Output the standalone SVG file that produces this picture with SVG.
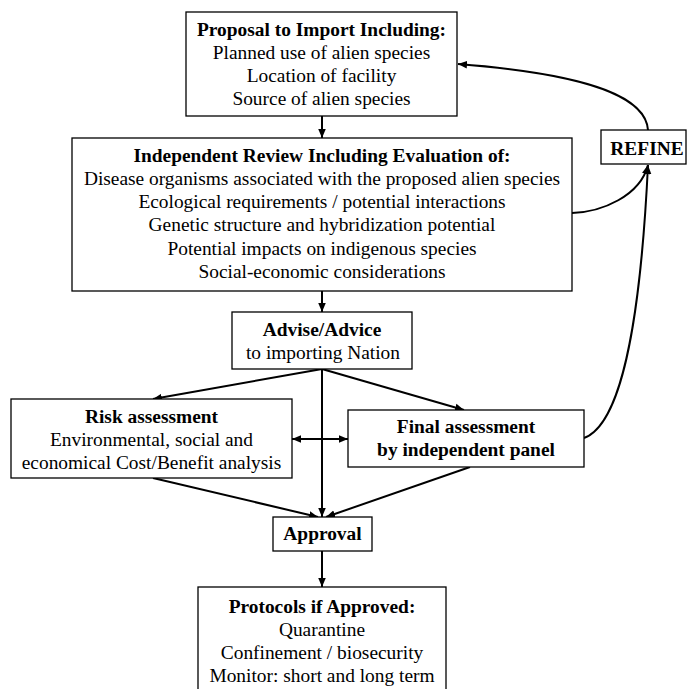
<svg xmlns="http://www.w3.org/2000/svg" width="690" height="689" viewBox="0 0 690 689">
<defs>
<style>
.box{fill:#fff;stroke:#000;stroke-width:1.3}
text{font-family:"Liberation Serif","Times New Roman",serif;font-size:19.4px;fill:#000;text-anchor:middle}
.b{font-weight:bold}
.c{fill:none;stroke:#000;stroke-width:2}
</style>
<marker id="ah" viewBox="0 0 10 10" refX="10" refY="5" markerWidth="4.5" markerHeight="4.5" orient="auto-start-reverse" markerUnits="strokeWidth">
<path d="M0,0.8 L10,5 L0,9.2 z" fill="#000"/>
</marker>
</defs>
<rect width="690" height="689" fill="#fff"/>
<g id="connectors">
<line class="c" x1="322" y1="116" x2="322" y2="138" marker-end="url(#ah)"/>
<line class="c" x1="322" y1="291" x2="322" y2="312" marker-end="url(#ah)"/>
<line class="c" x1="322" y1="369" x2="153" y2="399" marker-end="url(#ah)"/>
<line class="c" x1="322" y1="369" x2="464" y2="410" marker-end="url(#ah)"/>
<line class="c" x1="322" y1="369" x2="322" y2="517" marker-end="url(#ah)"/>
<line class="c" x1="292" y1="439" x2="348" y2="439" marker-start="url(#ah)" marker-end="url(#ah)"/>
<line class="c" x1="153" y1="478" x2="318" y2="517" marker-end="url(#ah)"/>
<line class="c" x1="470" y1="467" x2="326" y2="517" marker-end="url(#ah)"/>
<line class="c" x1="322" y1="551" x2="322" y2="587" marker-end="url(#ah)"/>
<path class="c" d="M572,213 C602,212 640,196 648,165" marker-end="url(#ah)"/>
<path class="c" d="M584,438 C620,425 640,330 648,165" marker-end="url(#ah)"/>
<path class="c" d="M648,130 C646,100 600,75 458,64" marker-end="url(#ah)"/>
</g>
<g id="proposal">
<rect class="box" x="186" y="12" width="271" height="104"/>
<text class="b" x="321.5" y="36">Proposal to Import Including:</text>
<text x="321.5" y="59">Planned use of alien species</text>
<text x="321.5" y="82">Location of facility</text>
<text x="321.5" y="105">Source of alien species</text>
</g>
<g id="review">
<rect class="box" x="72" y="138" width="500" height="153"/>
<text class="b" x="322" y="162">Independent Review Including Evaluation of:</text>
<text x="322" y="185">Disease organisms associated with the proposed alien species</text>
<text x="322" y="208">Ecological requirements / potential interactions</text>
<text x="322" y="231">Genetic structure and hybridization potential</text>
<text x="322" y="255">Potential impacts on indigenous species</text>
<text x="322" y="278">Social-economic considerations</text>
</g>
<g id="refine">
<rect class="box" x="601" y="130" width="85" height="34"/>
<text class="b" x="647" y="155">REFINE</text>
</g>
<g id="advise">
<rect class="box" x="232" y="312" width="180" height="57"/>
<text class="b" x="322" y="336">Advise/Advice</text>
<text x="323" y="359">to importing Nation</text>
</g>
<g id="risk">
<rect class="box" x="11" y="399" width="281" height="79"/>
<text class="b" x="151.5" y="423">Risk assessment</text>
<text x="151.5" y="446">Environmental, social and</text>
<text x="151.5" y="469">economical Cost/Benefit analysis</text>
</g>
<g id="final">
<rect class="box" x="348" y="410" width="236" height="57"/>
<text class="b" x="466" y="433">Final assessment</text>
<text class="b" x="466" y="456">by independent panel</text>
</g>
<g id="approval">
<rect class="box" x="273" y="517" width="99" height="34"/>
<text class="b" x="322.5" y="540">Approval</text>
</g>
<g id="protocols">
<rect class="box" x="198" y="587" width="248" height="110"/>
<text class="b" x="322" y="613">Protocols if Approved:</text>
<text x="322" y="636">Quarantine</text>
<text x="322" y="659">Confinement / biosecurity</text>
<text x="322" y="682">Monitor: short and long term</text>
</g>
</svg>
